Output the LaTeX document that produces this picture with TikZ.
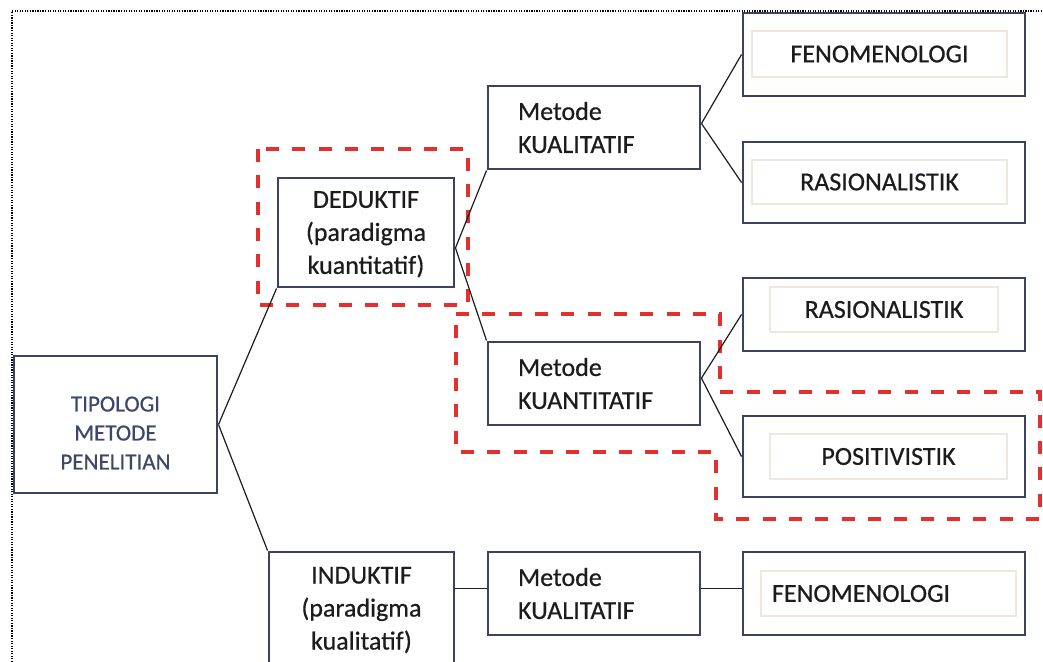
\documentclass[tikz,border=0pt]{standalone}
\usepackage{fontspec}
\setmainfont{Carlito}[FakeBold=0.6]
\definecolor{boxline}{HTML}{3D4163}
\definecolor{redmark}{HTML}{E3302E}
\definecolor{innerline}{HTML}{EDE7DF}
\definecolor{tiptext}{HTML}{3F4668}
\definecolor{ink}{HTML}{1C1C1C}
\begin{document}
\begin{tikzpicture}[x=0.75pt,y=-0.75pt,
  outerbox/.style={draw=boxline,line width=2.2pt,inner sep=0pt,text=ink,align=center,
    font=\fontsize{19.5}{24.75}\selectfont},
  methodbox/.style={outerbox,minimum width=159pt,minimum height=62.25pt,
    align=left,text width=114pt,inner xsep=22.5pt},
  leafbox/.style={draw=boxline,line width=2.2pt,inner sep=0pt,minimum width=211.5pt},
  innerbox/.style={draw=innerline,line width=0.8pt,inner sep=0pt,text=ink,
    font=\fontsize{19.5}{24}\selectfont},
  link/.style={draw=ink,line width=0.9pt},
  redzone/.style={draw=redmark,line width=2.7pt,dash pattern=on 9.75pt off 10pt}]
\useasboundingbox (0,0) rectangle (1043,661);
\draw[densely dotted,line width=0.9pt] (12,700) -- (12,11) -- (1060,11);

\draw[redzone] (258,149) rectangle (468,305);
\draw[redzone] (456,314) -- (720,314) -- (720,392) -- (1040,392) -- (1040,519)
  -- (716,519) -- (716,452) -- (456,452) -- cycle;

\node[outerbox,minimum width=152.25pt,minimum height=102.75pt] (tip) at (115.5,424.5) {};
\node[text=tiptext,align=center,inner sep=0pt,font=\fontsize{17.3}{21.75}\selectfont]
  (tiptxt) at (115.5,433) {TIPOLOGI\\METODE\\PENELITIAN};
\node[outerbox,minimum width=132pt,minimum height=81.75pt,text depth=-2.5pt] (ded) at (366,232.5)
  {DEDUKTIF\\(paradigma\\kuantitatif)};
\node[outerbox,minimum width=138.75pt,minimum height=87pt] (ind) at (361.5,610)
  {INDUKTIF\\(paradigma\\kualitatif)};

\node[methodbox] (mkual) at (594,127.5) {Metode\\KUALITATIF};
\node[methodbox] (mkuan) at (594,383.5) {Metode\\KUANTITATIF};
\node[methodbox] (mkualb) at (594,593.5) {Metode\\KUALITATIF};

\node[leafbox,minimum height=62.25pt] (fen) at (884,54.5) {};
\node[leafbox,minimum height=60.75pt] (ras) at (884,182.5) {};
\node[leafbox,minimum height=54.75pt] (rasb) at (884,314.5) {};
\node[leafbox,minimum height=60.75pt] (pos) at (884,456.5) {};
\node[leafbox,minimum height=62.25pt] (fenb) at (884,593.5) {};

\node[innerbox,minimum width=191.25pt,minimum height=34.5pt] (fentxt) at (879.5,54) {FENOMENOLOGI};
\node[innerbox,minimum width=191.25pt,minimum height=33pt] (rastxt) at (879.5,182) {RASIONALISTIK};
\node[innerbox,minimum width=171pt,minimum height=33.75pt] (rasbtxt) at (884,309.5) {RASIONALISTIK};
\node[innerbox,minimum width=177.75pt,minimum height=33.75pt] (postxt) at (888.5,456.5) {POSITIVISTIK};
\node[innerbox,minimum height=33.75pt,inner xsep=8.25pt,text width=174.75pt,align=left]
  (fenbtxt) at (888.5,593.5) {FENOMENOLOGI};

\draw[link] (tip.east) -- (ded.south west);
\draw[link] (tip.east) -- (ind.north west);
\draw[link] ([yshift=-11.6pt]ded.east) -- (mkual.south west);
\draw[link] ([yshift=-11.6pt]ded.east) -- (mkuan.north west);
\draw[link] ([yshift=3pt]mkual.east) -- (fen.west);
\draw[link] ([yshift=3pt]mkual.east) -- (ras.west);
\draw[link] ([yshift=4pt]mkuan.east) -- (rasb.west);
\draw[link] ([yshift=4pt]mkuan.east) -- (pos.west);
\draw[link] ([yshift=4pt]mkualb.west -| ind.east) -- ([yshift=4pt]mkualb.west);
\draw[link] ([yshift=4pt]mkualb.east) -- ([yshift=4pt]fenb.west);
\end{tikzpicture}
\end{document}
